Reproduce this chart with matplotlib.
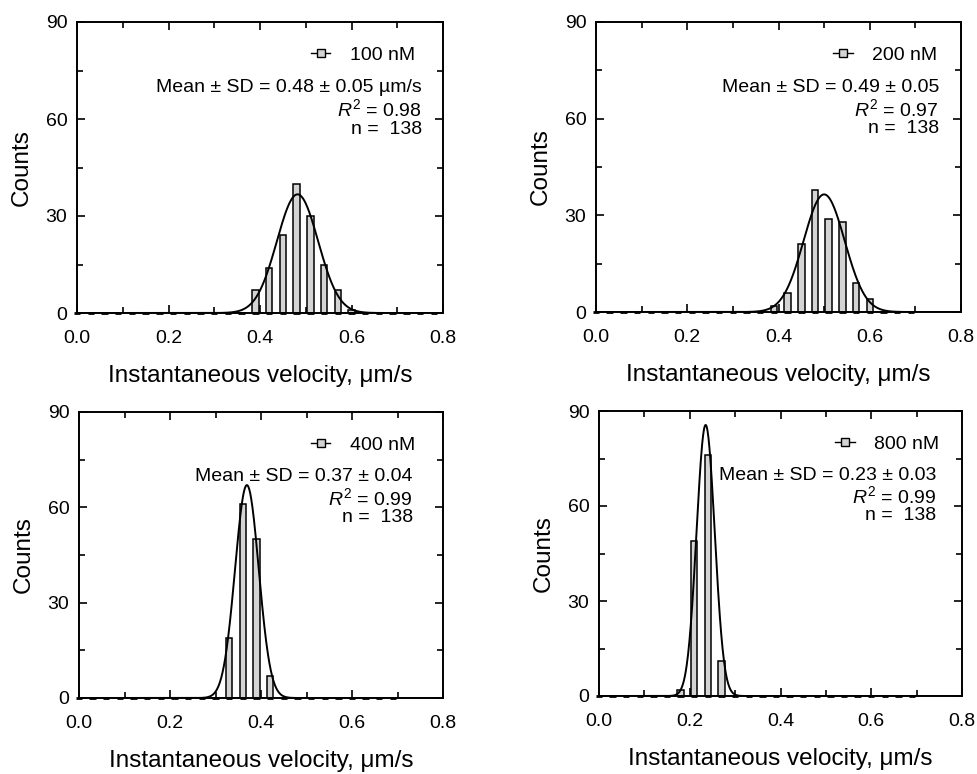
import numpy as np
import matplotlib
matplotlib.use("Agg")
import matplotlib.pyplot as plt
from matplotlib.lines import Line2D
from matplotlib.ticker import MultipleLocator

plt.rcParams['font.family'] = ['Liberation Sans', 'DejaVu Sans']
plt.rcParams['mathtext.fontset'] = 'custom'
plt.rcParams['mathtext.rm'] = 'Liberation Sans'
plt.rcParams['mathtext.it'] = 'Liberation Sans:italic'

# ---- data ----
conc_labels = ["100 nM", "200 nM", "400 nM", "800 nM"]
mean_sd = ["0.48 ± 0.05 µm/s", "0.49 ± 0.05", "0.37 ± 0.04", "0.23 ± 0.03"]
r_squared = ["0.98", "0.97", "0.99", "0.99"]
n_obs = [138, 138, 138, 138]

vel_100 = [0.39, 0.42, 0.45, 0.48, 0.51, 0.54, 0.57, 0.60]
cnt_100 = [7, 14, 24, 40, 30, 15, 7, 1]
vel_200 = [0.39, 0.42, 0.45, 0.48, 0.51, 0.54, 0.57, 0.60]
cnt_200 = [2, 6, 21, 38, 29, 28, 9, 4]
vel_400 = [0.33, 0.36, 0.39, 0.42]
cnt_400 = [19, 61, 50, 7]
vel_800 = [0.18, 0.21, 0.24, 0.27]
cnt_800 = [2, 49, 76, 11]

# last empty bin drawn on the baseline
empty_end = [0.78, 0.69, 0.69, 0.69]

# gaussian fit (amplitude, centre, width)
fit_amp = [36.7, 36.5, 67.0, 85.6]
fit_mu = [0.482, 0.500, 0.369, 0.235]
fit_sd = [0.045, 0.045, 0.026, 0.020]

velocities = [vel_100, vel_200, vel_400, vel_800]
counts = [cnt_100, cnt_200, cnt_400, cnt_800]

# ---- layout ----
W, H = 977, 774
rects_px = [(77, 22, 443, 313), (596, 22, 961, 312),
            (79, 412, 443, 698), (599, 411, 962, 696)]
leg_x = [0.923, 0.935, 0.923, 0.937]
txt_x = [0.942, 0.94, 0.917, 0.93]

bar_face = "#d4d4d4"
bw = 0.014

fig = plt.figure(figsize=(W / 100, H / 100), dpi=100)

for i in range(4):
    l, t, r, b = rects_px[i]
    ax = fig.add_axes([l / W, 1 - b / H, (r - l) / W, (b - t) / H])

    # empty bins show up as short dashes on the baseline
    grid = np.round(np.arange(0.0, empty_end[i] + 0.001, 0.03), 2)
    ax.bar(grid, np.zeros(len(grid)), width=bw, color=bar_face,
           edgecolor="k", lw=2.0, zorder=4, clip_on=False)
    ax.bar(velocities[i], counts[i], width=bw, color=bar_face,
           edgecolor="k", lw=1.1, zorder=2)

    xs = np.linspace(0, 0.8, 800)
    ys = fit_amp[i] * np.exp(-(xs - fit_mu[i]) ** 2 / (2 * fit_sd[i] ** 2))
    ax.plot(xs, ys, color="k", lw=1.4, zorder=3)

    ax.set_xlim(0, 0.8)
    ax.set_ylim(0, 90)
    ax.xaxis.set_major_locator(MultipleLocator(0.2))
    ax.xaxis.set_minor_locator(MultipleLocator(0.1))
    ax.yaxis.set_major_locator(MultipleLocator(30))
    ax.yaxis.set_minor_locator(MultipleLocator(15))
    ax.xaxis.set_major_formatter(matplotlib.ticker.FormatStrFormatter("%.1f"))
    ax.tick_params(which="both", direction="in", top=True, right=True,
                   width=1.2, labelsize=14)
    ax.tick_params(which="major", length=6)
    ax.tick_params(which="minor", length=4)
    ax.tick_params(axis="x", pad=12)
    ax.tick_params(axis="y", pad=7)
    for sp in ax.spines.values():
        sp.set_linewidth(1.4)

    ax.set_xlabel("Instantaneous velocity, μm/s", fontsize=17.5, labelpad=13)
    ax.set_ylabel("Counts", fontsize=17.5, labelpad=9)

    handle = Line2D([], [], color="k", lw=1.0, marker="s", ms=6,
                    mfc=bar_face, mec="k", mew=1.0)
    ax.legend([handle], [conc_labels[i]], loc="center right",
              bbox_to_anchor=(leg_x[i], 0.885), frameon=False, fontsize=14,
              borderpad=0, borderaxespad=0, handlelength=1.0,
              handletextpad=1.0)

    ax.text(txt_x[i], 0.775, "Mean ± SD = " + mean_sd[i], transform=ax.transAxes,
            ha="right", va="center", fontsize=14)
    ax.text(txt_x[i], 0.700, "$R^2$ = " + r_squared[i], transform=ax.transAxes,
            ha="right", va="center", fontsize=14)
    ax.text(txt_x[i], 0.632, "n =  " + str(n_obs[i]), transform=ax.transAxes,
            ha="right", va="center", fontsize=14)

fig.savefig("out.png", dpi=100)
